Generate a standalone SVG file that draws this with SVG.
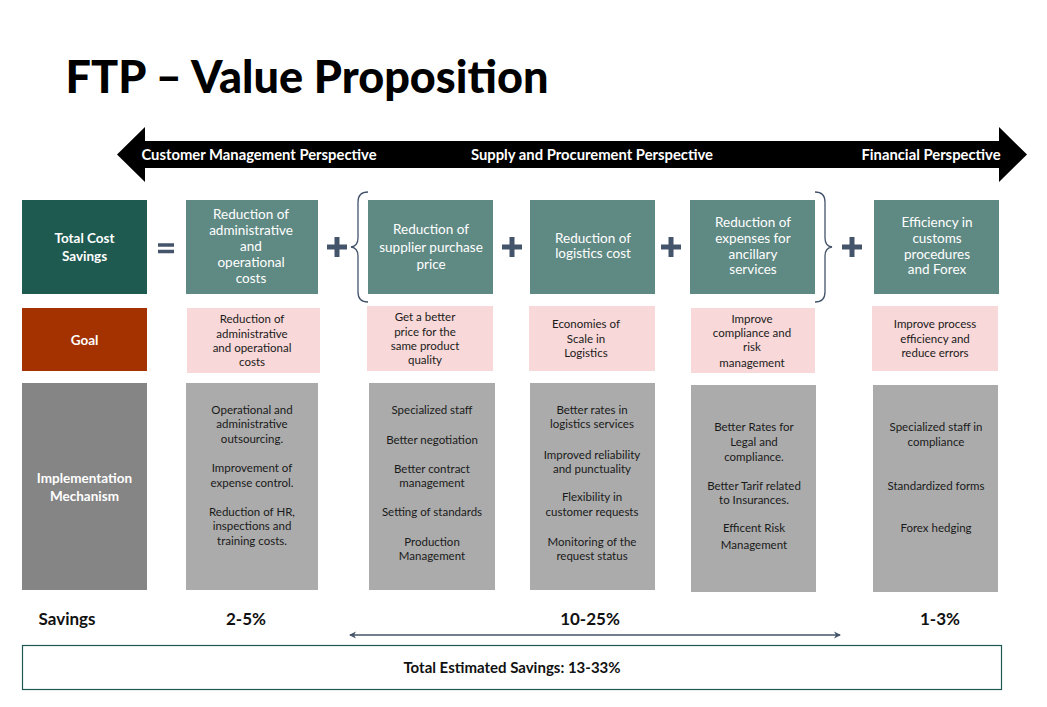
<svg xmlns="http://www.w3.org/2000/svg" width="1047" height="707" viewBox="0 0 1047 707">
<style>
text{font-family:Lato,"Open Sans","Liberation Sans",sans-serif;text-anchor:middle}
.hd{fill:#fff;font-weight:bold;font-size:13.5px}
.hv{fill:#fff;font-size:13.5px}
.gl{fill:#1a1a1a;font-size:11.5px}
.im{fill:#1a1a1a;font-size:11.5px}
.sv{fill:#111;font-weight:bold;font-size:17px}
.dark{fill:#1e5a50}
.mid{fill:#5f8a84}
.pink{fill:#f8d8d8}
.gray{fill:#ababab}
.op{stroke:#44546a;stroke-width:5;fill:none}
.br{stroke:#44546a;stroke-width:1.3;fill:none}
.ban{fill:#fff;font-weight:bold;font-size:14.8px}
</style>
<defs>
<marker id="ah" markerWidth="8" markerHeight="8" refX="6" refY="4" orient="auto-start-reverse" markerUnits="userSpaceOnUse">
<path d="M0,0.5 L7,4 L0,7.5 L2,4 Z" fill="#44546a"/>
</marker>
</defs>
<rect width="1047" height="707" fill="#fff"/>
<text x="307" y="93" style="font-size:45px;font-weight:900;fill:#000">FTP – Value Proposition</text>

<g id="banner">
<path d="M117,154.5 L145,127 L145,141 L999,141 L999,127 L1027,154.5 L999,182 L999,168 L145,168 L145,182 Z" fill="#000"/>
<text class="ban" x="259" y="160">Customer Management Perspective</text>
<text class="ban" x="592" y="160">Supply and Procurement Perspective</text>
<text class="ban" x="931" y="160">Financial Perspective</text>
</g>

<g id="operators">
<path class="op" d="M158,245 H174 M158,251.5 H174" style="stroke-width:3.6"/>
<path class="op" d="M327,247 H347 M337,237 V257"/>
<path class="op" d="M502,247 H522 M512,237 V257"/>
<path class="op" d="M661,247 H681 M671,237 V257"/>
<path class="op" d="M842,247 H862 M852,237 V257"/>
<path class="br" d="M368,192 Q358,192 358,202 L358,238 Q358,246 351,247 Q358,248 358,256 L358,292 Q358,302 368,302"/>
<path class="br" d="M815,192 Q825,192 825,202 L825,238 Q825,246 832,247 Q825,248 825,256 L825,292 Q825,302 815,302"/>
</g>

<g id="total-cost-savings">
<rect class="dark" x="22" y="200" width="125" height="94"/>
<text class="hd" x="84.5" y="243">Total Cost</text>
<text class="hd" x="84.5" y="261">Savings</text>
</g>
<g id="goal">
<rect x="22" y="308" width="125" height="63" fill="#a33200"/>
<text class="hd" x="84.5" y="345">Goal</text>
</g>
<g id="implementation">
<rect x="22" y="383" width="125" height="207" fill="#858585"/>
<text class="hd" x="84.5" y="483">Implementation</text>
<text class="hd" x="84.5" y="501">Mechanism</text>
</g>

<g id="col1">
<rect class="mid" x="186" y="200" width="132" height="94"/>
<text class="hv" x="251" y="219">Reduction of</text>
<text class="hv" x="251" y="235">administrative</text>
<text class="hv" x="251" y="251">and</text>
<text class="hv" x="251" y="267">operational</text>
<text class="hv" x="251" y="283">costs</text>
<rect class="pink" x="187" y="308" width="133" height="65"/>
<text class="gl" x="252" y="323">Reduction of</text>
<text class="gl" x="252" y="338">administrative</text>
<text class="gl" x="252" y="352">and operational</text>
<text class="gl" x="252" y="366">costs</text>
<rect class="gray" x="186" y="383" width="132" height="207"/>
<text class="im" x="252" y="414">Operational and</text>
<text class="im" x="252" y="428">administrative</text>
<text class="im" x="252" y="443">outsourcing.</text>
<text class="im" x="252" y="472">Improvement of</text>
<text class="im" x="252" y="487">expense control.</text>
<text class="im" x="252" y="516">Reduction of HR,</text>
<text class="im" x="252" y="530">inspections and</text>
<text class="im" x="252" y="545">training costs.</text>
</g>

<g id="col2">
<rect class="mid" x="368" y="200" width="125" height="94"/>
<text class="hv" x="431" y="234">Reduction of</text>
<text class="hv" x="431" y="252">supplier purchase</text>
<text class="hv" x="431" y="269">price</text>
<rect class="pink" x="367" y="306" width="126" height="65"/>
<text class="gl" x="425" y="321">Get a better</text>
<text class="gl" x="425" y="336">price for the</text>
<text class="gl" x="425" y="350">same product</text>
<text class="gl" x="425" y="364">quality</text>
<rect class="gray" x="369" y="383" width="126" height="207"/>
<text class="im" x="432" y="414">Specialized staff</text>
<text class="im" x="432" y="444">Better negotiation</text>
<text class="im" x="432" y="473">Better contract</text>
<text class="im" x="432" y="487">management</text>
<text class="im" x="432" y="516">Setting of standards</text>
<text class="im" x="432" y="546">Production</text>
<text class="im" x="432" y="560">Management</text>
</g>

<g id="col3">
<rect class="mid" x="530" y="200" width="125" height="94"/>
<text class="hv" x="593" y="243">Reduction of</text>
<text class="hv" x="593" y="258">logistics cost</text>
<rect class="pink" x="529" y="306" width="126" height="65"/>
<text class="gl" x="586" y="328">Economies of</text>
<text class="gl" x="586" y="343">Scale in</text>
<text class="gl" x="586" y="357">Logistics</text>
<rect class="gray" x="530" y="383" width="125" height="207"/>
<text class="im" x="592" y="414">Better rates in</text>
<text class="im" x="592" y="428">logistics services</text>
<text class="im" x="592" y="459">Improved reliability</text>
<text class="im" x="592" y="473">and punctuality</text>
<text class="im" x="592" y="501">Flexibility in</text>
<text class="im" x="592" y="516">customer requests</text>
<text class="im" x="592" y="546">Monitoring of the</text>
<text class="im" x="592" y="560">request status</text>
</g>

<g id="col4">
<rect class="mid" x="690" y="200" width="125" height="94"/>
<text class="hv" x="753" y="227">Reduction of</text>
<text class="hv" x="753" y="243">expenses for</text>
<text class="hv" x="753" y="259">ancillary</text>
<text class="hv" x="753" y="274">services</text>
<rect class="pink" x="691" y="308" width="124" height="65"/>
<text class="gl" x="752" y="323">Improve</text>
<text class="gl" x="752" y="337">compliance and</text>
<text class="gl" x="752" y="351">risk</text>
<text class="gl" x="752" y="367">management</text>
<rect class="gray" x="691" y="385" width="125" height="207"/>
<text class="im" x="754" y="431">Better Rates for</text>
<text class="im" x="754" y="446">Legal and</text>
<text class="im" x="754" y="461">compliance.</text>
<text class="im" x="754" y="490">Better Tarif related</text>
<text class="im" x="754" y="504">to Insurances.</text>
<text class="im" x="754" y="532">Efficent Risk</text>
<text class="im" x="754" y="549">Management</text>
</g>

<g id="col5">
<rect class="mid" x="874" y="200" width="125" height="94"/>
<text class="hv" x="937" y="227">Efficiency in</text>
<text class="hv" x="937" y="243">customs</text>
<text class="hv" x="937" y="259">procedures</text>
<text class="hv" x="937" y="274">and Forex</text>
<rect class="pink" x="872" y="306" width="126" height="65"/>
<text class="gl" x="935" y="328">Improve process</text>
<text class="gl" x="935" y="343">efficiency and</text>
<text class="gl" x="935" y="357">reduce errors</text>
<rect class="gray" x="873" y="385" width="125" height="207"/>
<text class="im" x="936" y="431">Specialized staff in</text>
<text class="im" x="936" y="446">compliance</text>
<text class="im" x="936" y="490">Standardized forms</text>
<text class="im" x="936" y="532">Forex hedging</text>
</g>

<g id="savings">
<text class="sv" x="67" y="625">Savings</text>
<text class="sv" x="246" y="625">2-5%</text>
<text class="sv" x="590" y="625">10-25%</text>
<text class="sv" x="940" y="625">1-3%</text>
</g>
<g id="connectors">
<line x1="350" y1="635" x2="840" y2="635" stroke="#44546a" stroke-width="1.5" marker-start="url(#ah)" marker-end="url(#ah)"/>
</g>
<g id="total">
<rect x="22.5" y="645.5" width="979" height="44" fill="#fff" stroke="#1e5a50" stroke-width="1.2"/>
<text x="512" y="673" style="font-size:15px;font-weight:bold;fill:#111">Total Estimated Savings: 13-33%</text>
</g>
</svg>
